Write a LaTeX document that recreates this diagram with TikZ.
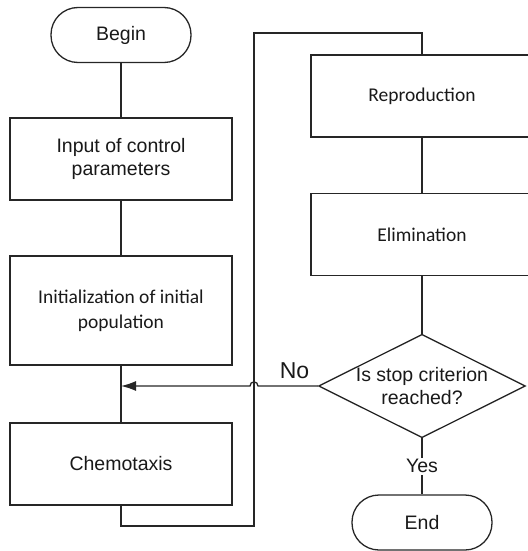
\documentclass[tikz,border=0pt]{standalone}
\usepackage{fontspec}
\setmainfont{Liberation Sans}
\newfontfamily\calibrifont{Carlito}
\usetikzlibrary{shapes.geometric,arrows.meta,positioning}

\begin{document}
\begin{tikzpicture}[x=0.5pt,y=-0.5pt,on grid,line width=0.65pt,draw=black!85,text=black!90,
  font=\fontsize{9.75}{11.5}\selectfont,
  box/.style={draw,rectangle,minimum width=111pt,minimum height=41pt,align=center},
  term/.style={draw,rectangle,rounded corners=13.5pt,minimum width=70pt,minimum height=27.5pt},
  decision/.style={draw,diamond,aspect=2,inner sep=0pt,align=center},
  calibri/.style={font=\calibrifont\fontsize{9.75}{12.5}\selectfont}]
  \useasboundingbox (0,0) rectangle (528,551);
  \clip (0,0) rectangle (528,551);
  \node[term]                   (0) at (121,35)        {Begin};
  \node[box]                    (1) [below=62pt of 0]   {Input of control\\parameters};
  \node[box,calibri,minimum height=54.5pt] (2) [below=75.75pt of 1] {Initialization of initial\\population};
  \node[box]                    (3) [below=76.75pt of 2] {Chemotaxis};
  \node[box,calibri]            (4) at (422,96)        {Reproduction};
  \node[box,calibri]            (5) [below=69.25pt of 4] {Elimination};
  \node[decision]               (6) [below=75.75pt of 5] {Is stop criterion\\reached?};
  \node[term]                   (7) [below=68.25pt of 6] {End};
  \coordinate (low)  at (254,526);
  \coordinate (high) at (254,33);
  \coordinate (hop)  at (low |- 6.west);
  \draw (0) -- (1);
  \draw (1) -- (2);
  \draw (2) -- (3);
  \draw (3.south) |- (low) -- (high) -| (4.north);
  \draw (4) -- (5);
  \draw (5) -- (6);
  \draw (6) -- node[fill=white,inner sep=1pt] {Yes} (7);
  \draw[-{Latex[length=7.5pt,width=5pt]}] (6.west)
    -- node[above,pos=0.39,font=\fontsize{11.5}{13}\selectfont] {No} ([xshift=2pt]hop)
    .. controls +(0,2.7pt) and +(0,2.7pt) .. ([xshift=-2pt]hop) -- (2.south |- 6.west);
\end{tikzpicture}
\end{document}
